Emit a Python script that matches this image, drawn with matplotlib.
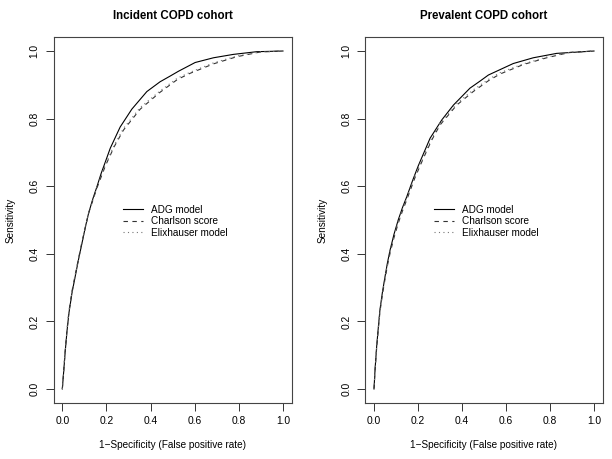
import matplotlib
matplotlib.use("Agg")
import matplotlib.pyplot as plt

plt.rcParams['font.family'] = ['Liberation Sans', 'DejaVu Sans']

titles = ["Incident COPD cohort", "Prevalent COPD cohort"]
series_names = ["ADG model", "Charlson score", "Elixhauser model"]
xlabel = "1\u2212Specificity (False positive rate)"
ylabel = "Sensitivity"
ticks = [0.0, 0.2, 0.4, 0.6, 0.8, 1.0]
tick_labels = ["0.0", "0.2", "0.4", "0.6", "0.8", "1.0"]

# Incident cohort
inc_adg_fpr = [0, 0.006, 0.013, 0.021, 0.030, 0.044, 0.059, 0.074, 0.089, 0.104, 0.119, 0.138,
               0.157, 0.176, 0.195, 0.217, 0.262, 0.315, 0.383, 0.443, 0.489, 0.526, 0.602,
               0.685, 0.775, 0.881, 1.0]
inc_adg_sens = [0, 0.050, 0.110, 0.170, 0.225, 0.285, 0.335, 0.385, 0.431, 0.478, 0.520, 0.562,
                0.599, 0.638, 0.672, 0.712, 0.775, 0.828, 0.880, 0.909, 0.926, 0.940, 0.966,
                0.980, 0.990, 0.998, 1.0]
inc_cha_fpr = [0, 0.006, 0.013, 0.021, 0.030, 0.044, 0.059, 0.074, 0.089, 0.119, 0.157, 0.195,
               0.236, 0.277, 0.353, 0.443, 0.522, 0.579, 0.685, 0.790, 0.896, 1.0]
inc_cha_sens = [0, 0.052, 0.114, 0.174, 0.230, 0.290, 0.340, 0.388, 0.435, 0.520, 0.595, 0.660,
                0.718, 0.766, 0.828, 0.878, 0.916, 0.934, 0.962, 0.983, 0.997, 1.0]
inc_eli_fpr = [0, 0.006, 0.013, 0.021, 0.030, 0.044, 0.059, 0.074, 0.089, 0.119, 0.157, 0.195,
               0.236, 0.277, 0.353, 0.443, 0.522, 0.579, 0.685, 0.790, 0.896, 1.0]
inc_eli_sens = [0, 0.051, 0.112, 0.172, 0.228, 0.288, 0.338, 0.387, 0.433, 0.520, 0.597, 0.665,
                0.722, 0.771, 0.833, 0.882, 0.920, 0.937, 0.965, 0.985, 0.997, 1.0]

# Prevalent cohort
pre_adg_fpr = [0, 0.005, 0.012, 0.020, 0.027, 0.038, 0.05, 0.061, 0.073, 0.091, 0.11, 0.129,
               0.149, 0.175, 0.201, 0.255, 0.308, 0.361, 0.436, 0.482, 0.520, 0.633, 0.724,
               0.830, 1.0]
pre_adg_sens = [0, 0.060, 0.125, 0.185, 0.234, 0.285, 0.332, 0.373, 0.411, 0.458, 0.500, 0.536,
                0.569, 0.616, 0.660, 0.742, 0.796, 0.840, 0.890, 0.911, 0.929, 0.963, 0.980,
                0.993, 1.0]
pre_cha_fpr = [0, 0.005, 0.012, 0.020, 0.027, 0.038, 0.05, 0.061, 0.073, 0.091, 0.11, 0.129,
               0.149, 0.186, 0.224, 0.262, 0.300, 0.376, 0.451, 0.520, 0.573, 0.679, 0.785,
               0.890, 1.0]
pre_cha_sens = [0, 0.057, 0.120, 0.180, 0.228, 0.278, 0.325, 0.365, 0.402, 0.448, 0.490, 0.526,
                0.560, 0.625, 0.682, 0.736, 0.781, 0.840, 0.880, 0.912, 0.932, 0.960, 0.980,
                0.996, 1.0]
pre_eli_fpr = [0, 0.005, 0.012, 0.020, 0.027, 0.038, 0.05, 0.061, 0.073, 0.091, 0.11, 0.129,
               0.149, 0.186, 0.224, 0.262, 0.300, 0.376, 0.451, 0.520, 0.573, 0.679, 0.785,
               0.890, 1.0]
pre_eli_sens = [0, 0.058, 0.122, 0.182, 0.230, 0.281, 0.328, 0.369, 0.406, 0.452, 0.495, 0.531,
                0.565, 0.631, 0.688, 0.741, 0.786, 0.845, 0.885, 0.916, 0.936, 0.962, 0.982,
                0.996, 1.0]

panels = [
    [(inc_adg_fpr, inc_adg_sens), (inc_cha_fpr, inc_cha_sens), (inc_eli_fpr, inc_eli_sens)],
    [(pre_adg_fpr, pre_adg_sens), (pre_cha_fpr, pre_cha_sens), (pre_eli_fpr, pre_eli_sens)],
]
styles = [dict(color="black", linestyle="-"),
          dict(color="#333333", linestyle=(0, (4, 4))),
          dict(color="#777777", linestyle=(0, (1, 3)))]

fig = plt.figure(figsize=(6.12, 4.59), dpi=100)
axes_pos = [[53.5 / 612, 1 - 402.5 / 459, 238.3 / 612, 365 / 459],
            [365.2 / 612, 1 - 402.5 / 459, 237.6 / 612, 365 / 459]]
legend_x = [0.292, 0.29]

for i, pos in enumerate(axes_pos):
    ax = fig.add_axes(pos)
    for (fx, sy), st, name in zip(panels[i], styles, series_names):
        ax.plot(fx, sy, linewidth=0.8, label=name, **st)
    ax.set_xlim(-0.04, 1.04)
    ax.set_ylim(-0.04, 1.04)
    ax.set_xticks(ticks)
    ax.set_xticklabels(tick_labels)
    ax.set_yticks(ticks)
    ax.set_yticklabels(tick_labels, rotation=90, va="center")
    ax.tick_params(direction="out", length=6, width=0.7, labelsize=7.4, pad=4, color="#333333")
    for sp in ax.spines.values():
        sp.set_linewidth(0.8)
        sp.set_color("#444444")
    ax.set_xlabel(xlabel, fontsize=7.2, labelpad=10)
    ax.set_ylabel(ylabel, fontsize=7.2, labelpad=10)
    ax.set_title(titles[i], fontsize=8.3, fontweight="bold", pad=13)
    ax.legend(loc="upper left", bbox_to_anchor=(legend_x[i], 0.542), frameon=False,
              fontsize=7.2, handlelength=2.0, handletextpad=0.8, labelspacing=0.15,
              borderpad=0, borderaxespad=0)

fig.savefig("out.png", dpi=100)
